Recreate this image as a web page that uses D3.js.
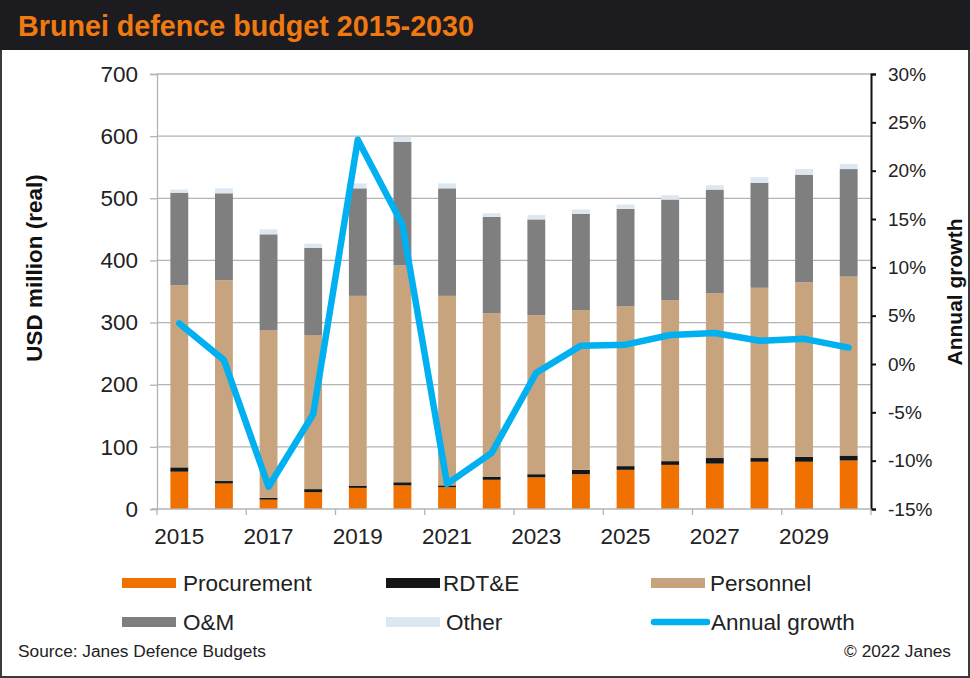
<!DOCTYPE html>
<html>
<head>
<meta charset="utf-8">
<script src="https://cdn.jsdelivr.net/npm/d3@7"></script>
<style>
  html, body { margin: 0; padding: 0; background: #fff; }
  svg { display: block; font-family: "Liberation Sans", Arial, sans-serif; }
</style>
</head>
<body>
<div id="container"></div>
<script>
// chart values
const years = ['2015', '2016', '2017', '2018', '2019', '2020', '2021', '2022',
  '2023', '2024', '2025', '2026', '2027', '2028', '2029', '2030']
const procurement = [60, 41, 15, 27, 34, 38, 35, 47, 51, 56, 63, 71, 73, 76, 76, 78]
const rdte = [7, 4, 3, 5, 3, 5, 3, 5, 5, 7, 6, 6, 9, 6, 8, 8]
const personnel = [293, 323, 270, 248, 306, 349, 305, 263, 256, 257, 257, 259, 265, 274, 281, 288]
const om = [149, 140, 154, 140, 173, 199, 173, 155, 154, 155, 157, 162, 167, 169, 173, 173]
const other = [5, 8, 8, 7, 8, 8, 8, 6, 7, 7, 7, 7, 7, 9, 9, 8]
const growth = [4.2, 0.4, -12.7, -5.2, 23.2, 14.4, -12.4, -9.2, -0.9, 1.9, 2.0, 3.0, 3.2, 2.4, 2.6, 1.7]
const leftTicks = [0, 100, 200, 300, 400, 500, 600, 700]
const rightTicks = [-15, -10, -5, 0, 5, 10, 15, 20, 25, 30]
const xLabels = ['2015', '2017', '2019', '2021', '2023', '2025', '2027', '2029']

const seriesNames = ['Procurement', 'RDT&E', 'Personnel', 'O&M', 'Other']
const seriesColors = ['#f07000', '#161616', '#c8a47e', '#7f7f7f', '#dde7f1']
const lineColor = '#00b0f0'

class BudgetChart {
  constructor () {
    this.width = 970
    this.height = 678
    this.plot = { left: 157, right: 871, top: 74, bottom: 509 }
    this.init()
  }

  init () {
    this.svg = d3.select('#container')
      .append('svg')
      .attr('width', this.width)
      .attr('height', this.height)
    this.initScales()
    this.drawFrame()
    this.drawGrid()
    this.drawBars()
    this.drawAxes()
    this.drawLine()
    this.drawLegend()
    this.drawNotes()
  }

  initScales () {
    this.x = d3.scaleBand()
      .domain(years)
      .range([this.plot.left, this.plot.right])
      .paddingInner(0.6)
      .paddingOuter(0.3)
    this.yLeft = d3.scaleLinear()
      .domain([0, 700])
      .range([this.plot.bottom, this.plot.top])
    this.yRight = d3.scaleLinear()
      .domain([-15, 30])
      .range([this.plot.bottom, this.plot.top])
  }

  drawFrame () {
    this.svg.append('rect')
      .attr('x', 1).attr('y', 1)
      .attr('width', this.width - 2).attr('height', this.height - 2)
      .attr('fill', '#fff')
      .attr('stroke', '#3a3a3a')
      .attr('stroke-width', 2)
    this.svg.append('rect')
      .attr('x', 0).attr('y', 0)
      .attr('width', this.width).attr('height', 50)
      .attr('fill', '#1c1b20')
    this.svg.append('text')
      .attr('x', 18).attr('y', 36)
      .attr('fill', '#f07a10')
      .attr('font-weight', 'bold')
      .attr('font-size', 28.7)
      .text('Brunei defence budget 2015-2030')
  }

  drawGrid () {
    this.svg.append('g')
      .selectAll('line')
      .data(leftTicks.slice(1))
      .enter()
      .append('line')
      .attr('x1', this.plot.left).attr('x2', this.plot.right)
      .attr('y1', d => this.yLeft(d)).attr('y2', d => this.yLeft(d))
      .attr('stroke', '#b4b4b4')
      .attr('stroke-width', 1.3)
  }

  drawBars () {
    let rows = years.map((year, i) => ({
      year: year,
      Procurement: procurement[i],
      'RDT&E': rdte[i],
      Personnel: personnel[i],
      'O&M': om[i],
      Other: other[i]
    }))
    let stacked = d3.stack().keys(seriesNames)(rows)
    let self = this

    this.svg.append('g')
      .selectAll('g')
      .data(stacked)
      .enter()
      .append('g')
      .attr('fill', (d, i) => seriesColors[i])
      .selectAll('rect')
      .data(d => d)
      .enter()
      .append('rect')
      .attr('x', d => self.x(d.data.year))
      .attr('width', self.x.bandwidth())
      .attr('y', d => self.yLeft(d[1]))
      .attr('height', d => self.yLeft(d[0]) - self.yLeft(d[1]))
  }

  drawAxes () {
    let tickFont = 22.5
    // left axis
    let left = this.svg.append('g')
      .attr('transform', `translate(${this.plot.left},0)`)
      .call(d3.axisLeft(this.yLeft).tickValues(leftTicks).tickSize(7).tickPadding(12))
    left.select('.domain').attr('stroke', '#b4b4b4').attr('stroke-width', 1.3)
    left.selectAll('.tick line').attr('stroke', '#b4b4b4').attr('stroke-width', 1.3)
    left.selectAll('text')
      .attr('font-size', tickFont)
      .attr('fill', '#222')
      .attr('font-family', '"Liberation Sans", Arial, sans-serif')

    // right axis
    let right = this.svg.append('g')
      .attr('transform', `translate(${this.plot.right},0)`)
      .call(d3.axisRight(this.yRight).tickValues(rightTicks).tickSize(5).tickPadding(12)
        .tickFormat(d => d + '%'))
    right.select('.domain').attr('stroke', '#111').attr('stroke-width', 2)
    right.selectAll('.tick line').attr('stroke', '#111').attr('stroke-width', 2)
    right.selectAll('text')
      .attr('font-size', 19)
      .attr('fill', '#222')
      .attr('font-family', '"Liberation Sans", Arial, sans-serif')

    // bottom axis: ticks every two categories, labels on odd years
    let step = this.x.step()
    let x0 = this.plot.left
    let boundaries = d3.range(0, years.length + 1, 2).map(i => x0 + i * step)
    let bottom = this.svg.append('g')
    bottom.append('line')
      .attr('x1', this.plot.left - 5).attr('x2', this.plot.right)
      .attr('y1', this.plot.bottom).attr('y2', this.plot.bottom)
      .attr('stroke', '#b4b4b4').attr('stroke-width', 1.3)
    bottom.selectAll('.xtick')
      .data(boundaries)
      .enter()
      .append('line')
      .attr('class', 'xtick')
      .attr('x1', d => d).attr('x2', d => d)
      .attr('y1', this.plot.bottom).attr('y2', this.plot.bottom + 6)
      .attr('stroke', '#b4b4b4').attr('stroke-width', 1.3)
    bottom.selectAll('text')
      .data(xLabels)
      .enter()
      .append('text')
      .attr('x', d => this.x(d) + this.x.bandwidth() / 2)
      .attr('y', this.plot.bottom + 35)
      .attr('text-anchor', 'middle')
      .attr('font-size', tickFont)
      .attr('fill', '#222')
      .text(d => d)

    // axis titles
    this.svg.append('text')
      .attr('transform', 'translate(42,268) rotate(-90)')
      .attr('text-anchor', 'middle')
      .attr('font-size', 22.5)
      .attr('font-weight', 'bold')
      .attr('fill', '#111')
      .text('USD million  (real)')
    this.svg.append('text')
      .attr('transform', 'translate(962,292) rotate(-90)')
      .attr('text-anchor', 'middle')
      .attr('font-size', 21)
      .attr('font-weight', 'bold')
      .attr('fill', '#111')
      .text('Annual growth')
  }

  drawLine () {
    let line = d3.line()
      .x((d, i) => this.x(years[i]) + this.x.bandwidth() / 2)
      .y(d => this.yRight(d))
    this.svg.append('path')
      .datum(growth)
      .attr('d', line)
      .attr('fill', 'none')
      .attr('stroke', lineColor)
      .attr('stroke-width', 6.5)
      .attr('stroke-linejoin', 'round')
      .attr('stroke-linecap', 'round')
  }

  drawLegend () {
    let items = seriesNames.map((name, i) => ({ name: name, color: seriesColors[i], type: 'box' }))
    items.push({ name: 'Annual growth', color: lineColor, type: 'line' })
    let colX = [122, 386, 651]
    let rowY = [583, 622]

    let g = this.svg.append('g')
      .selectAll('g')
      .data(items)
      .enter()
      .append('g')
      .attr('transform', (d, i) => `translate(${colX[i % 3]},${rowY[Math.floor(i / 3)]})`)

    g.filter(d => d.type === 'box')
      .append('rect')
      .attr('x', 0).attr('y', -5)
      .attr('width', 54).attr('height', 10)
      .attr('fill', d => d.color)
    g.filter(d => d.type === 'line')
      .append('line')
      .attr('x1', 3).attr('x2', 56)
      .attr('y1', 0).attr('y2', 0)
      .attr('stroke', d => d.color)
      .attr('stroke-width', 6.5)
      .attr('stroke-linecap', 'round')
    g.append('text')
      .attr('x', (d, i) => [61, 57, 59, 61, 60, 60][i])
      .attr('y', 8)
      .attr('font-size', 22.5)
      .attr('fill', '#222')
      .text(d => d.name)
  }

  drawNotes () {
    this.svg.append('text')
      .attr('x', 18).attr('y', 657)
      .attr('font-size', 17.3)
      .attr('fill', '#222')
      .text('Source: Janes Defence Budgets')
    this.svg.append('text')
      .attr('x', 951).attr('y', 657)
      .attr('text-anchor', 'end')
      .attr('font-size', 17.3)
      .attr('fill', '#222')
      .text('© 2022 Janes')
  }
}

new BudgetChart()
</script>
</body>
</html>
